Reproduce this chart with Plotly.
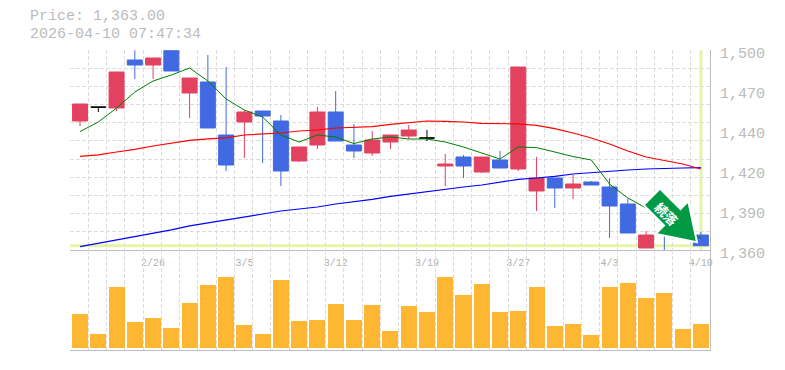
import plotly.graph_objects as go

DATES = ["2/19","2/20","2/24","2/25","2/26","2/27","3/2","3/3","3/4","3/5","3/6","3/9","3/10","3/11","3/12","3/13","3/16","3/17","3/18","3/19","3/23","3/24","3/25","3/26","3/27","3/30","3/31","4/1","4/2","4/3","4/6","4/7","4/8","4/9","4/10"]
OPEN = [1450.3,1460,1459.4,1493,1489.5,1499.5,1469.9,1477.6,1440.5,1449.6,1457.3,1450.3,1422.3,1433.5,1456.6,1433.5,1427.9,1435.6,1439.8,1438.4,1418.8,1425.1,1414.6,1423,1416.7,1401.3,1410.4,1403.4,1407.6,1404.1,1392.2,1361.4,1392.2,1384.5,1370.5]
HIGH = [1462.2,1460,1484.6,1499.8,1494.4,1499.5,1480.4,1496.5,1488.1,1458,1457.3,1454.5,1432.1,1460.1,1471.3,1448.2,1443.3,1440.5,1447.5,1444,1427.2,1426.5,1425.1,1429.3,1488.1,1425.1,1410.4,1412.5,1408.3,1410.4,1395.7,1373.3,1392.2,1384.5,1372.6]
LOW = [1446.8,1456.6,1457.3,1479.7,1479.7,1485.3,1452.4,1445.4,1415.3,1424.4,1420.9,1404.8,1421.6,1430.7,1436.3,1424.4,1425.8,1430.7,1437.7,1436.3,1404.8,1410.4,1413.9,1417.4,1415.3,1387.3,1389.4,1395.7,1405.5,1368.4,1371.9,1361.4,1360,1369.1,1363]
CLOSE = [1462.2,1460,1484.6,1489.5,1494.4,1485.3,1480.4,1445.4,1419.5,1456.6,1453.8,1415.3,1432.1,1456.6,1436.3,1429.3,1437,1440.5,1444,1438.4,1420.2,1418.8,1425.1,1417.4,1488.1,1410.4,1403.4,1406.2,1405.5,1390.8,1371.9,1370.5,1385.2,1369.1,1363]
DOJI = [1, 19]
MA_SHORT = [1442.9,1449.6,1459.4,1470.6,1478.3,1482.5,1487.4,1478.3,1465.7,1458,1453.1,1440.5,1435.6,1440.5,1439.1,1434.5,1437.7,1439.1,1437.7,1437.7,1435.6,1432.1,1427.9,1423.7,1432.1,1431.7,1428.6,1425.4,1423,1406.2,1396.4,1389.4,1382.4,1375.4,1368.4]
MA_MID = [1425.6,1426.6,1428.6,1430.4,1432.8,1434.9,1436.7,1437.8,1438.5,1440.5,1441.2,1441.9,1443.3,1444,1445.4,1445.8,1446.3,1447.9,1449.3,1450.3,1450,1449.6,1448.6,1448.6,1448.3,1447.2,1445,1441.9,1438.4,1434.2,1429.3,1425.1,1422.7,1420.2,1416.7]
MA_LONG = [1362.3,1364.6,1366.8,1369.1,1371.6,1374.1,1376.9,1379.1,1381,1383.1,1385.2,1387.3,1388.7,1390.1,1392.2,1393.6,1395.4,1397.5,1399.2,1401,1402.4,1404.1,1405.5,1407.4,1409.4,1410.4,1411.5,1413.2,1414.3,1415.3,1416,1416.7,1417.2,1417.4,1417.6]
VOLUME = [34,14,61,26,30,20,45,63,71,23,14,68,27,28,44,28,43,17,42,36,71,53,64,36,37,61,22,24,13,61,65,50,55,19,24]
Y_TICKS = [1500,1472,1444,1416,1388,1360]
Y_LABELS = ["1,500","1,470","1,440","1,420","1,390","1,360"]
DATE_TICKS = ["2/26","3/5","3/12","3/19","3/27","4/3","4/10"]
LAST_PRICE = 1363
LAST_INDEX = 34

RED, BLUE, ORANGE = "#E24260", "#4169E1", "#FFB733"
GRID, AXIS, TXT, PIN = "#DDDDDD", "#BBBBBB", "#BBBBBB", "#E5F6A3"
W, H = 785, 370
L, R, T, B = 70, 710, 50, 350

def px(x): return (x - L) / (R - L)
def py(y): return (B - y) / (B - T)

idx = list(range(len(DATES)))
body = [i for i in idx if i not in DOJI]
grid_x = dict(showgrid=True, gridcolor=GRID, griddash="4px,2px", gridwidth=1,
              tickmode="linear", tick0=-0.55, dtick=1, ticklen=0)

fig = go.Figure()
for vals, col, wd in [(MA_LONG, "#0000FF", 1.2), (MA_MID, "#FF0000", 1.2), (MA_SHORT, "#008000", 1)]:
    fig.add_trace(go.Scatter(x=idx, y=vals, mode="lines", line=dict(color=col, width=wd, shape="linear"), xaxis="x", yaxis="y"))

def pick(a, sel): return [a[i] for i in sel]
fig.add_trace(go.Candlestick(x=body, open=pick(OPEN, body), high=pick(HIGH, body), low=pick(LOW, body), close=pick(CLOSE, body),
    increasing=dict(line=dict(color=RED, width=1), fillcolor=RED),
    decreasing=dict(line=dict(color=BLUE, width=1), fillcolor=BLUE), xaxis="x", yaxis="y"))
fig.add_trace(go.Candlestick(x=DOJI, open=pick(OPEN, DOJI), high=pick(HIGH, DOJI), low=pick(LOW, DOJI), close=pick(CLOSE, DOJI),
    increasing=dict(line=dict(color="#000000", width=1), fillcolor="#000000"),
    decreasing=dict(line=dict(color="#000000", width=1), fillcolor="#000000"), xaxis="x", yaxis="y"))
fig.add_trace(go.Bar(x=idx, y=VOLUME, width=0.88, marker=dict(color=ORANGE, line=dict(width=0)), xaxis="x2", yaxis="y2"))

arrow = [(660,190),(680.5,210.5),(687.7,203.3),(695.7,241),(657.7,233.3),(665.5,225.5),(645,205)]
arrow_path = "M" + " L".join(f"{px(x):.5f},{py(y):.5f}" for x, y in arrow) + " Z"

fig.update_layout(
    width=W, height=H, margin=dict(l=L, r=W-R, t=T, b=H-B), showlegend=False,
    paper_bgcolor="white", plot_bgcolor="white", boxmode="overlay", boxgap=0.18, boxgroupgap=0,
    bargap=0,
    xaxis=dict(domain=[0,1], range=[-0.55,34.5], anchor="y", tickmode="array", automargin=False,
               tickvals=[DATES.index(d) for d in DATE_TICKS], ticktext=DATE_TICKS,
               showgrid=False, zeroline=False, showline=True, linecolor=AXIS, linewidth=1,
               ticks="", ticklabelstandoff=3, tickfont=dict(family="Liberation Mono", size=10, color="#B0B0B0"),
               rangeslider=dict(visible=False), minor=grid_x),
    yaxis=dict(domain=[1/3,1], range=[1360,1500], side="right", anchor="x", tickmode="array", automargin=False,
               tickvals=Y_TICKS, ticktext=Y_LABELS, showgrid=False, zeroline=False,
               showline=True, linecolor=AXIS, linewidth=1, ticks="", ticklabelstandoff=6, ticklabelshift=3,
               tickfont=dict(family="Liberation Mono", size=15, color=TXT),
               minor=dict(showgrid=True, gridcolor=GRID, griddash="4px,2px", gridwidth=1,
                          tickmode="linear", tick0=1360, dtick=140/11, ticklen=0)),
    xaxis2=dict(domain=[0,1], range=[-0.55,34.5], anchor="y2", showticklabels=False, ticks="", automargin=False,
                tickmode="array", tickvals=[], showgrid=False, zeroline=False, showline=True,
                linecolor=AXIS, linewidth=1, minor=grid_x),
    yaxis2=dict(domain=[0,1/3], range=[-2,98], side="right", anchor="x2", showticklabels=False, ticks="", automargin=False,
                showgrid=False, zeroline=False, showline=True, linecolor=AXIS, linewidth=1),
    shapes=[
        dict(type="line", xref="paper", x0=0, x1=1, yref="y", y0=LAST_PRICE, y1=LAST_PRICE,
             line=dict(color=PIN, width=3), layer="below"),
        dict(type="line", xref="x", x0=LAST_INDEX, x1=LAST_INDEX, yref="paper", y0=py(249.5), y1=1,
             line=dict(color=PIN, width=3), layer="below"),
        dict(type="path", xref="paper", yref="paper", path=arrow_path, fillcolor="white",
             line=dict(color="white", width=4), layer="above"),
        dict(type="path", xref="paper", yref="paper", path=arrow_path, fillcolor="#009944",
             line=dict(width=0), layer="above"),
    ],
    annotations=[
        dict(xref="paper", yref="paper", x=px(28), y=py(17), xanchor="left", yanchor="middle", showarrow=False,
             text="Price: 1,363.00", font=dict(family="Liberation Mono", size=15, color=TXT)),
        dict(xref="paper", yref="paper", x=px(28), y=py(34.5), xanchor="left", yanchor="middle", showarrow=False,
             text="2026-04-10 07:47:34", font=dict(family="Liberation Mono", size=15, color=TXT)),
        dict(xref="paper", yref="paper", x=px(666.5), y=py(213), xanchor="center", yanchor="middle", showarrow=False,
             text="<b>続落</b>", textangle=45, font=dict(family="Noto Sans CJK JP", size=13, color="white")),
    ],
)
fig.write_html("out.html", post_script="document.body.style.margin='0';", config=dict(displayModeBar=False))
